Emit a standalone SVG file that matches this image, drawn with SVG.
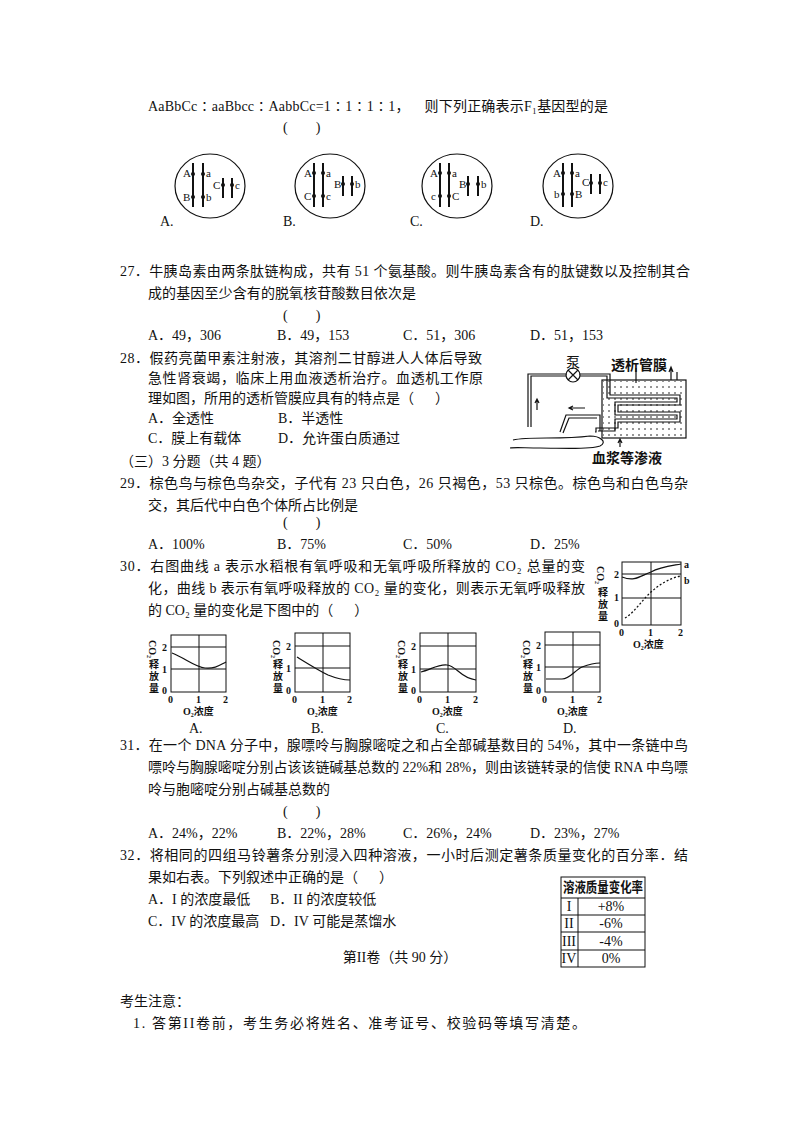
<svg xmlns="http://www.w3.org/2000/svg" width="800" height="1132" viewBox="0 0 800 1132" xml:space="preserve">
<style>
text{font-family:"Liberation Serif","Noto Sans CJK SC",serif;font-size:14px;fill:#111;white-space:pre}
.s{font-size:11px;font-family:"Liberation Serif",serif}
.g{font-size:10px;font-weight:bold}
.ln{stroke:#111;fill:none;stroke-width:1.2}
.ch{stroke:#111;stroke-width:2}
.grid{stroke:#111;fill:none;stroke-width:1}
</style>
<defs><pattern id="dots" width="6" height="6" patternUnits="userSpaceOnUse"><circle cx="3" cy="3" r="0.8" fill="#111"/></pattern></defs>
<rect width="800" height="1132" fill="#fff"/>
<g id="q26">
<text x="148" y="111" textLength="460">AaBbCc∶aaBbcc∶AabbCc=1∶1∶1∶1，    则下列正确表示F₁基因型的是</text>
<text x="283" y="132">(        )</text>
<g id="cellA"><ellipse cx="210" cy="186" rx="35" ry="32" class="ln"/>
<path class="ch" d="M193 163V207M203 163V207M223 178V198M232 178V198"/>
<g fill="#111"><circle cx="193" cy="174" r="2"/><circle cx="203" cy="174" r="2"/><circle cx="193" cy="197" r="2"/><circle cx="203" cy="197" r="2"/><circle cx="223" cy="185" r="2"/><circle cx="232" cy="185" r="2"/></g>
<text class="s" x="183" y="177">A</text><text class="s" x="206" y="177">a</text><text class="s" x="183" y="201">B</text><text class="s" x="206" y="201">b</text><text class="s" x="213" y="189">C</text><text class="s" x="235" y="189">c</text>
<text x="160" y="226">A.</text></g>
<g id="cellB"><ellipse cx="330" cy="186" rx="35" ry="32" class="ln"/>
<path class="ch" d="M314 163V207M323 163V207M343 176V196M352 176V196"/>
<g fill="#111"><circle cx="314" cy="173" r="2"/><circle cx="323" cy="173" r="2"/><circle cx="314" cy="196" r="2"/><circle cx="323" cy="196" r="2"/><circle cx="343" cy="184" r="2"/><circle cx="352" cy="184" r="2"/></g>
<text class="s" x="304" y="177">A</text><text class="s" x="326" y="177">a</text><text class="s" x="304" y="200">C</text><text class="s" x="326" y="200">c</text><text class="s" x="334" y="188">B</text><text class="s" x="355" y="188">b</text>
<text x="283" y="226">B.</text></g>
<g id="cellC"><ellipse cx="457" cy="186" rx="35" ry="32" class="ln"/>
<path class="ch" d="M440 163V207M449 163V207M468 176V196M478 176V196"/>
<g fill="#111"><circle cx="440" cy="173" r="2"/><circle cx="449" cy="173" r="2"/><circle cx="440" cy="196" r="2"/><circle cx="449" cy="196" r="2"/><circle cx="468" cy="184" r="2"/><circle cx="478" cy="184" r="2"/></g>
<text class="s" x="430" y="177">A</text><text class="s" x="452" y="177">a</text><text class="s" x="431" y="200">c</text><text class="s" x="452" y="200">C</text><text class="s" x="459" y="188">B</text><text class="s" x="481" y="188">b</text>
<text x="410" y="226">C.</text></g>
<g id="cellD"><ellipse cx="578" cy="186" rx="35" ry="32" class="ln"/>
<path class="ch" d="M563 163V207M572 163V207M591 174V194M600 174V194"/>
<g fill="#111"><circle cx="563" cy="173" r="2"/><circle cx="572" cy="173" r="2"/><circle cx="563" cy="194" r="2"/><circle cx="572" cy="194" r="2"/><circle cx="591" cy="183" r="2"/><circle cx="600" cy="183" r="2"/></g>
<text class="s" x="553" y="177">A</text><text class="s" x="575" y="177">a</text><text class="s" x="554" y="198">b</text><text class="s" x="575" y="198">B</text><text class="s" x="582" y="186">C</text><text class="s" x="603" y="186">c</text>
<text x="530" y="226">D.</text></g>
</g>
<g id="q27">
<text x="120" y="276" textLength="570">27．牛胰岛素由两条肽链构成，共有 51 个氨基酸。则牛胰岛素含有的肽键数以及控制其合</text>
<text x="148" y="298" textLength="268">成的基因至少含有的脱氧核苷酸数目依次是</text>
<text x="283" y="320">(        )</text>
<text x="148" y="340">A．49，306</text><text x="277" y="340">B．49，153</text><text x="403" y="340">C．51，306</text><text x="530" y="340">D．51，153</text>
</g>
<g id="q28">
<text x="120" y="363" textLength="362">28．假药亮菌甲素注射液，其溶剂二甘醇进人人体后导致</text>
<text x="148" y="383" textLength="335">急性肾衰竭，临床上用血液透析治疗。血透机工作原</text>
<text x="148" y="403">理如图，所用的透析管膜应具有的特点是（      ）</text>
<text x="148" y="423">A．全透性</text><text x="278" y="423">B．半透性</text>
<text x="148" y="443">C．膜上有载体</text><text x="278" y="443">D．允许蛋白质通过</text>
</g>
<g id="dialysis">
<rect x="602" y="380" width="84" height="58" class="ln"/>
<rect x="603" y="381" width="82" height="56" fill="url(#dots)"/>
<path class="ln" d="M528 427V374H567M579 374H610V395H680V405H618V412H680V422H618V428H596V432H595"/>
<path class="ln" d="M531 427V376H566M580 376H607V398H677V402H615V415H677V419H615V431H598"/>
<path class="ln" d="M560 432L566 415H600V431M563 433L569 418H597"/>
<circle cx="573" cy="375" r="7" class="ln" fill="#fff"/><path class="ln" d="M568 370L578 380M578 370L568 380"/>
<path class="ln" d="M513 440C530 436 560 440 590 436C600 436 608 442 600 446C590 450 560 448 540 448C525 448 515 447 510 448"/>
<path class="ln" d="M537 410V400M535 403L537 399L539 403"/>
<path class="ln" d="M585 408H570M573 406L569 408L573 410"/>
<path class="ln" d="M671 380V368M669 372L671 367L673 372M677 380V372"/>
<path class="ln" d="M620 447V439M618 443L620 439L622 443"/>
<path class="ln" d="M636 383V368"/>
<text x="566" y="367" font-size="12">泵</text>
<text x="611" y="370" font-size="12" font-weight="bold">透析管膜</text>
<text x="592" y="463" font-size="12" font-weight="bold">血浆等渗液</text>
</g>
<g id="q29">
<text x="120" y="466">（三）3 分题（共 4 题）</text>
<text x="120" y="488" textLength="568">29．棕色鸟与棕色鸟杂交，子代有 23 只白色，26 只褐色，53 只棕色。棕色鸟和白色鸟杂</text>
<text x="148" y="510" textLength="210">交，其后代中白色个体所占比例是</text>
<text x="283" y="527">(        )</text>
<text x="148" y="549">A．100%</text><text x="277" y="549">B．75%</text><text x="403" y="549">C．50%</text><text x="530" y="549">D．25%</text>
</g>
<g id="q30">
<text x="120" y="571" textLength="465">30．右图曲线 a 表示水稻根有氧呼吸和无氧呼吸所释放的 CO₂ 总量的变</text>
<text x="148" y="593" textLength="437">化，曲线 b 表示有氧呼吸释放的 CO₂ 量的变化，则表示无氧呼吸释放</text>
<text x="148" y="615">的 CO₂ 量的变化是下图中的（      ）</text>
</g>
<g id="graphMain">
<rect x="622" y="562" width="59" height="63" class="grid"/>
<path class="grid" d="M622 574H681M622 598H681M651 562V625"/>
<path class="ln" d="M622 577C635 582 640 576 651 572C660 567 670 566 681 564"/>
<path d="M625 618C635 612 642 600 651 592C660 584 670 578 681 576" fill="none" stroke="#111" stroke-dasharray="2 2" stroke-width="1.3"/>
<text class="g" x="684" y="568">a</text><text class="g" x="684" y="584">b</text>
<text class="g" x="614" y="578">2</text><text class="g" x="614" y="601">1</text><text class="g" x="614" y="627">0</text>
<text class="g" x="619" y="636">0</text><text class="g" x="648" y="636">1</text><text class="g" x="678" y="636">2</text>
<text class="g" transform="translate(597 566) rotate(90)">CO₂</text>
<text class="g" x="598" y="596">释</text><text class="g" x="598" y="608">放</text><text class="g" x="598" y="620">量</text>
<text class="g" x="633" y="648">O₂浓度</text>
</g>
<g id="graphA">
<rect x="171" y="635" width="55" height="57" class="grid"/>
<path class="grid" d="M171 647H226M171 669H226M199 635V692"/>
<path class="ln" d="M172 653C185 658 195 667 205 668C215 669 220 665 226 662"/>
<text class="g" x="162" y="651">2</text><text class="g" x="162" y="673">1</text><text class="g" x="162" y="694">0</text>
<text class="g" x="168" y="703">0</text><text class="g" x="196" y="703">1</text><text class="g" x="223" y="703">2</text>
<text class="g" transform="translate(149 640) rotate(90)">CO₂</text>
<text class="g" x="149" y="668">释</text><text class="g" x="149" y="680">放</text><text class="g" x="149" y="692">量</text>
<text class="g" x="183" y="715">O₂浓度</text>
<text x="189" y="733">A.</text>
</g>
<g id="graphB">
<rect x="295" y="633" width="55" height="59" class="grid"/>
<path class="grid" d="M295 646H350M295 668H350M323 633V692"/>
<path class="ln" d="M297 657C310 665 318 670 328 675C338 679 344 680 350 680"/>
<text class="g" x="286" y="650">2</text><text class="g" x="286" y="672">1</text><text class="g" x="286" y="694">0</text>
<text class="g" x="292" y="703">0</text><text class="g" x="320" y="703">1</text><text class="g" x="347" y="703">2</text>
<text class="g" transform="translate(273 640) rotate(90)">CO₂</text>
<text class="g" x="273" y="668">释</text><text class="g" x="273" y="680">放</text><text class="g" x="273" y="692">量</text>
<text class="g" x="307" y="715">O₂浓度</text>
<text x="311" y="733">B.</text>
</g>
<g id="graphC">
<rect x="420" y="633" width="56" height="59" class="grid"/>
<path class="grid" d="M420 646H476M420 669H476M448 633V692"/>
<path class="ln" d="M421 672C430 670 438 664 447 665C457 666 460 678 476 680"/>
<text class="g" x="411" y="650">2</text><text class="g" x="411" y="673">1</text><text class="g" x="411" y="694">0</text>
<text class="g" x="417" y="703">0</text><text class="g" x="445" y="703">1</text><text class="g" x="473" y="703">2</text>
<text class="g" transform="translate(398 640) rotate(90)">CO₂</text>
<text class="g" x="398" y="668">释</text><text class="g" x="398" y="680">放</text><text class="g" x="398" y="692">量</text>
<text class="g" x="432" y="715">O₂浓度</text>
<text x="436" y="733">C.</text>
</g>
<g id="graphD">
<rect x="545" y="632" width="55" height="60" class="grid"/>
<path class="grid" d="M545 645H600M545 667H600M573 632V692"/>
<path class="ln" d="M546 679H562C570 679 575 670 582 667C590 664 595 663 600 663"/>
<text class="g" x="536" y="649">2</text><text class="g" x="536" y="671">1</text><text class="g" x="536" y="694">0</text>
<text class="g" x="542" y="703">0</text><text class="g" x="570" y="703">1</text><text class="g" x="597" y="703">2</text>
<text class="g" transform="translate(523 640) rotate(90)">CO₂</text>
<text class="g" x="523" y="668">释</text><text class="g" x="523" y="680">放</text><text class="g" x="523" y="692">量</text>
<text class="g" x="557" y="715">O₂浓度</text>
<text x="563" y="733">D.</text>
</g>
<g id="q31">
<text x="120" y="750" textLength="568">31．在一个 DNA 分子中，腺嘌呤与胸腺嘧啶之和占全部碱基数目的 54%，其中一条链中鸟</text>
<text x="148" y="772" textLength="540">嘌呤与胸腺嘧啶分别占该该链碱基总数的 22%和 28%，则由该链转录的信使 RNA 中鸟嘌</text>
<text x="148" y="794">呤与胞嘧啶分别占碱基总数的</text>
<text x="283" y="816">(        )</text>
<text x="148" y="838">A．24%，22%</text><text x="277" y="838">B．22%，28%</text><text x="403" y="838">C．26%，24%</text><text x="530" y="838">D．23%，27%</text>
</g>
<g id="q32">
<text x="120" y="860" textLength="568">32．将相同的四组马铃薯条分别浸入四种溶液，一小时后测定薯条质量变化的百分率．结</text>
<text x="148" y="882">果如右表。下列叙述中正确的是（      ）</text>
<text x="148" y="904">A．I 的浓度最低</text><text x="270" y="904">B．II 的浓度较低</text>
<text x="148" y="926">C．IV 的浓度最高</text><text x="270" y="926">D．IV 可能是蒸馏水</text>
</g>
<g id="table">
<rect x="561" y="877" width="84" height="90" class="grid" stroke-width="1.3"/>
<path class="grid" d="M561 898H645M561 915H645M561 932H645M561 950H645M578 898V967"/>
<text x="563" y="892" font-size="11" font-weight="bold" textLength="80" lengthAdjust="spacingAndGlyphs">溶液质量变化率</text>
<text x="569" y="911" font-size="11" text-anchor="middle">I</text><text x="569" y="928" font-size="11" text-anchor="middle">II</text><text x="569" y="946" font-size="11" text-anchor="middle">III</text><text x="569" y="963" font-size="11" text-anchor="middle">IV</text>
<text x="611" y="911" font-size="11" text-anchor="middle">+8%</text><text x="611" y="928" font-size="11" text-anchor="middle">-6%</text><text x="611" y="946" font-size="11" text-anchor="middle">-4%</text><text x="611" y="963" font-size="11" text-anchor="middle">0%</text>
</g>
<g id="part2">
<text x="400" y="962" text-anchor="middle">第II卷（共 90 分）</text>
<text x="120" y="1006">考生注意：</text>
<text x="133" y="1028" textLength="453">1. 答第II卷前，考生务必将姓名、准考证号、校验码等填写清楚。</text>
</g>
</svg>
